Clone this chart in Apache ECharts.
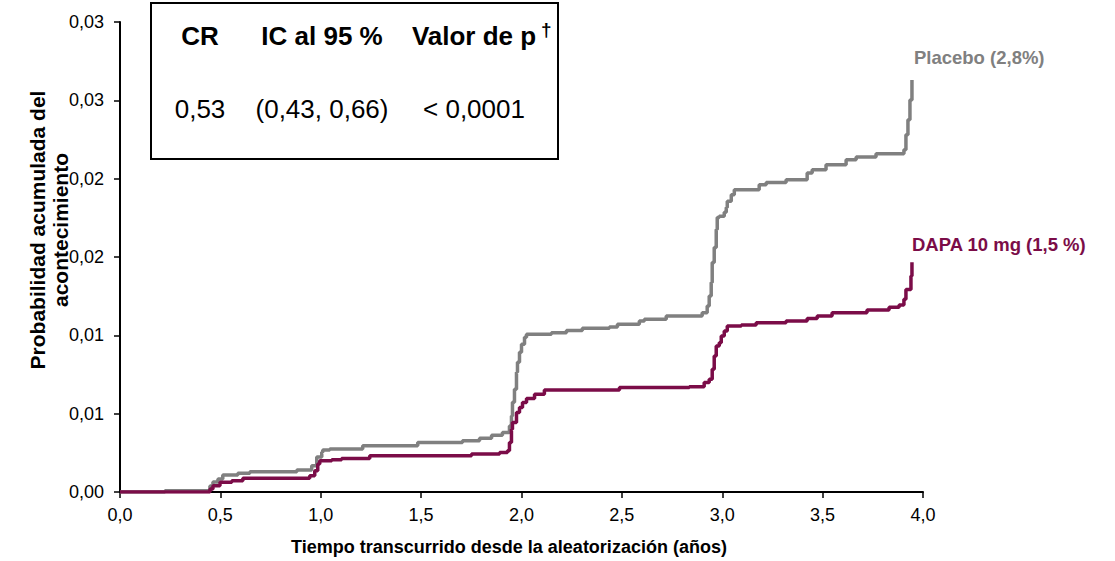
<!DOCTYPE html>
<html>
<head>
<meta charset="utf-8">
<script src="https://cdn.jsdelivr.net/npm/echarts@6/dist/echarts.min.js"></script>
<style>
  html, body { margin: 0; padding: 0; background: #ffffff; }
  #chart { width: 1115px; height: 561px; }
</style>
</head>
<body>
<div id="chart"></div>
<script>
// Tick labels
const xTickLabels = ['0,0', '0,5', '1,0', '1,5', '2,0', '2,5', '3,0', '3,5', '4,0'];
const yTickLabels = ['0,00', '0,01', '0,01', '0,02', '0,02', '0,03', '0,03'];

// Cumulative event probability (Kaplan-Meier steps): time in years, probability
const placeboTime = [0, 0.224, 0.448, 0.463, 0.488, 0.512, 0.587, 0.647, 0.881, 0.955,
  0.980, 1.005, 1.010, 1.045, 1.209, 1.483, 1.706, 1.791, 1.851, 1.905,
  1.940, 1.950, 1.955, 1.965, 1.975, 1.980, 1.990, 2.000, 2.015, 2.025,
  2.149, 2.224, 2.303, 2.438, 2.478, 2.587, 2.612, 2.721, 2.900, 2.925,
  2.935, 2.945, 2.950, 2.960, 2.970, 2.975, 2.985, 3.010, 3.020, 3.025,
  3.045, 3.060, 3.184, 3.219, 3.318, 3.423, 3.448, 3.517, 3.617, 3.667,
  3.766, 3.905, 3.915, 3.925, 3.935, 3.945];
const placeboRisk = [0, 0.00009, 0.0004, 0.00067, 0.00087, 0.00114, 0.00125, 0.00136, 0.00147, 0.00176,
  0.00234, 0.00266, 0.00281, 0.00288, 0.0031, 0.00332, 0.00343, 0.00361, 0.00381, 0.00399,
  0.00443, 0.0051, 0.00602, 0.00689, 0.00803, 0.00869, 0.00936, 0.0099, 0.01037, 0.01057,
  0.01068, 0.01083, 0.01097, 0.01106, 0.01124, 0.01146, 0.01157, 0.01179, 0.01202, 0.01246,
  0.01313, 0.01404, 0.01538, 0.01639, 0.01759, 0.01839, 0.01848, 0.01875, 0.01906, 0.01948,
  0.01993, 0.02026, 0.0206, 0.02075, 0.02093, 0.02138, 0.0216, 0.02194, 0.02227, 0.02245,
  0.02267, 0.02294, 0.02394, 0.02495, 0.02628, 0.02762];

const dapaTime = [0, 0.448, 0.463, 0.498, 0.557, 0.612, 0.945, 0.970, 0.985, 0.995,
  1.055, 1.104, 1.244, 1.751, 1.891, 1.930, 1.940, 1.950, 1.955, 1.975,
  1.990, 2.005, 2.025, 2.065, 2.114, 2.488, 2.836, 2.910, 2.935, 2.950,
  2.960, 2.970, 2.985, 2.995, 3.010, 3.025, 3.095, 3.169, 3.318, 3.423,
  3.473, 3.547, 3.721, 3.831, 3.881, 3.905, 3.915, 3.940, 3.945];
const dapaRisk = [0, 0.0002, 0.00042, 0.00065, 0.00076, 0.00092, 0.00109, 0.00142, 0.00187, 0.00209,
  0.00216, 0.00225, 0.00243, 0.00254, 0.00264, 0.00276, 0.00332, 0.00421, 0.00466, 0.00533,
  0.00566, 0.006, 0.00627, 0.00655, 0.00684, 0.007, 0.00706, 0.00734, 0.00756, 0.00823,
  0.00912, 0.00978, 0.01001, 0.01045, 0.01079, 0.01112, 0.01119, 0.01135, 0.01146, 0.01162,
  0.01179, 0.01202, 0.01219, 0.01239, 0.01253, 0.01291, 0.01358, 0.01447, 0.0154];

const seriesNames = ['Placebo', 'DAPA 10 mg'];
const pctSuffix = ['%', ' %'];

// Hazard ratio summary table
const tableHeaders = ['CR', 'IC al 95 %', 'Valor de p'];
const tableValues = ['0,53', '(0,43, 0,66)', '< 0,0001'];

const FONT = "'Liberation Sans', Arial, Helvetica, sans-serif";
const GRAY = '#808080';
const MAROON = '#7b0c48';
const Y_STEP = 0.00525;

function pairs(ts, vs) { return ts.map((t, i) => [t, vs[i]]); }
function pctLabel(v, k) {
  return seriesNames[k] + ' (' + (v * 100).toFixed(1).replace('.', ',') + pctSuffix[k] + ')';
}

const chart = echarts.init(document.getElementById('chart'), null, { renderer: 'svg' });

const colX = [200, 322, 474];

const graphic = [
  { type: 'rect', left: 150, top: 2, z: 10,
    shape: { width: 407, height: 156 },
    style: { fill: '#ffffff', stroke: '#000000', lineWidth: 2 } }
];
tableHeaders.forEach((h, i) => {
  graphic.push({ type: 'text', x: colX[i], y: 36, z: 11,
    style: { text: h, font: 'bold 26px ' + FONT, fill: '#000', align: 'center', verticalAlign: 'middle' } });
});
graphic.push({ type: 'text', x: 541, y: 29, z: 11,
  style: { text: '\u2020', font: 'bold 19px ' + FONT, fill: '#000', align: 'left', verticalAlign: 'middle' } });
tableValues.forEach((v, i) => {
  graphic.push({ type: 'text', x: colX[i], y: 109, z: 11,
    style: { text: v, font: '26px ' + FONT, fill: '#000', align: 'center', verticalAlign: 'middle' } });
});
// Y axis title, two lines, rotated
graphic.push({ type: 'text', x: 49, y: 230, rotation: Math.PI / 2,
  style: { text: 'Probabilidad acumulada del\nacontecimiento', font: 'bold 21px ' + FONT,
    fill: '#000', align: 'center', verticalAlign: 'middle', lineHeight: 23 } });

chart.setOption({
  animation: false,
  backgroundColor: '#ffffff',
  textStyle: { fontFamily: FONT },
  grid: { left: 120, right: 192, top: 22, bottom: 68, containLabel: false },
  xAxis: {
    type: 'value', min: 0, max: 4, interval: 0.5,
    name: 'Tiempo transcurrido desde la aleatorización (años)',
    nameLocation: 'middle', nameGap: 46,
    nameTextStyle: { fontFamily: FONT, fontWeight: 'bold', fontSize: 18, color: '#000', padding: [0, 25, 0, 0] },
    axisLine: { lineStyle: { color: '#000', width: 2 } },
    axisTick: { show: true, inside: false, length: 6, lineStyle: { color: '#000', width: 1.5 } },
    axisLabel: { fontFamily: FONT, fontSize: 18, color: '#000', margin: 14,
      formatter: v => xTickLabels[Math.round(v / 0.5)] },
    splitLine: { show: false }
  },
  yAxis: {
    type: 'value', min: 0, max: Y_STEP * 6, interval: Y_STEP,
    axisLine: { show: true, lineStyle: { color: '#000', width: 2 } },
    axisTick: { show: true, inside: false, length: 6, lineStyle: { color: '#000', width: 1.5 } },
    axisLabel: { fontFamily: FONT, fontSize: 18, color: '#000', margin: 16,
      formatter: v => yTickLabels[Math.round(v / Y_STEP)] },
    splitLine: { show: false }
  },
  series: [
    {
      name: seriesNames[0], type: 'line', step: 'end', showSymbol: false, z: 3,
      data: pairs(placeboTime, placeboRisk),
      lineStyle: { color: GRAY, width: 3.5 }, itemStyle: { color: GRAY },
      endLabel: { show: true, distance: 0, offset: [2, -22], align: 'left',
        fontFamily: FONT, fontWeight: 'bold', fontSize: 18.5, color: GRAY,
        formatter: p => pctLabel(p.value[1], 0) }
    },
    {
      name: seriesNames[1], type: 'line', step: 'end', showSymbol: false, z: 4,
      data: pairs(dapaTime, dapaRisk),
      lineStyle: { color: MAROON, width: 3.5 }, itemStyle: { color: MAROON },
      endLabel: { show: true, distance: 0, offset: [0, -18], align: 'left',
        fontFamily: FONT, fontWeight: 'bold', fontSize: 18.5, color: MAROON,
        formatter: p => pctLabel(p.value[1], 1) }
    }
  ],
  graphic: graphic
});
</script>
</body>
</html>
